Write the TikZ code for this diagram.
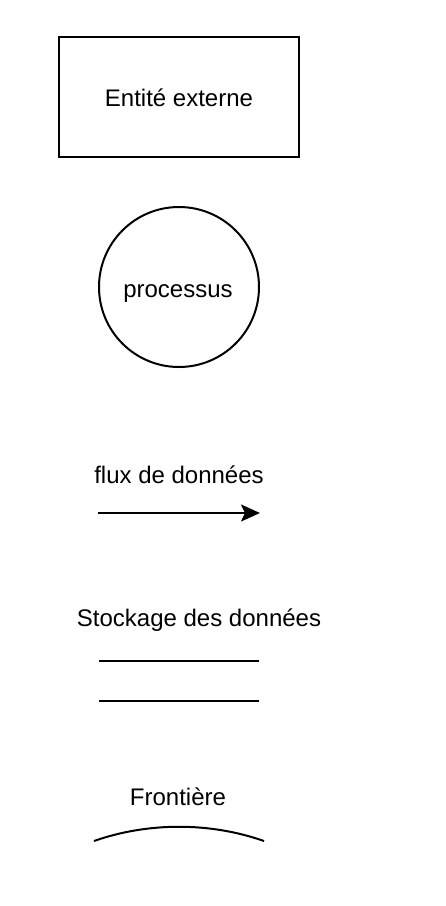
\documentclass[tikz,border=0pt]{standalone}
\usepackage{fontspec}
\setmainfont{Liberation Sans}
\usetikzlibrary{arrows.meta}
\begin{document}
\begin{tikzpicture}[x=1pt,y=-1pt,
  every node/.style={font=\fontsize{24}{28}\selectfont, inner sep=0pt, outer sep=0pt},
  shapeline/.style={line width=2pt, draw=black},
  lbl/.style={anchor=base}
]
\useasboundingbox (0,0) rectangle (446,906);
\node[shapeline, rectangle, minimum width=240pt, minimum height=120pt] (ent) at (179,97) {};
\node[lbl] (entlbl) at (179,106) {Entité externe};
\node[shapeline, circle, minimum size=160pt] (proc) at (179,287) {};
\node[lbl] (proclbl) at (178,297) {processus};
\node[lbl] (flux) at (179,483) {flux de données};
\coordinate (fa) at (98,513);
\coordinate (fb) at (260,513);
\draw[line width=2pt, -{Stealth[length=19pt,width=17pt,inset=4pt]}] (fa) -- (fb);
\node[lbl] (stock) at (199,626) {Stockage des données};
\coordinate (s1a) at (99,661);
\coordinate (s1b) at (259,661);
\coordinate (s2a) at (99,701);
\coordinate (s2b) at (259,701);
\draw[line width=2pt] (s1a) -- (s1b);
\draw[line width=2pt] (s2a) -- (s2b);
\node[lbl] (front) at (178,805) {Frontière};
\coordinate (fr1) at (94,841);
\coordinate (frc1) at (148,822);
\coordinate (frc2) at (210,822);
\coordinate (fr2) at (264,841);
\draw[line width=2pt] (fr1) .. controls (frc1) and (frc2) .. (fr2);
\end{tikzpicture}
\end{document}
